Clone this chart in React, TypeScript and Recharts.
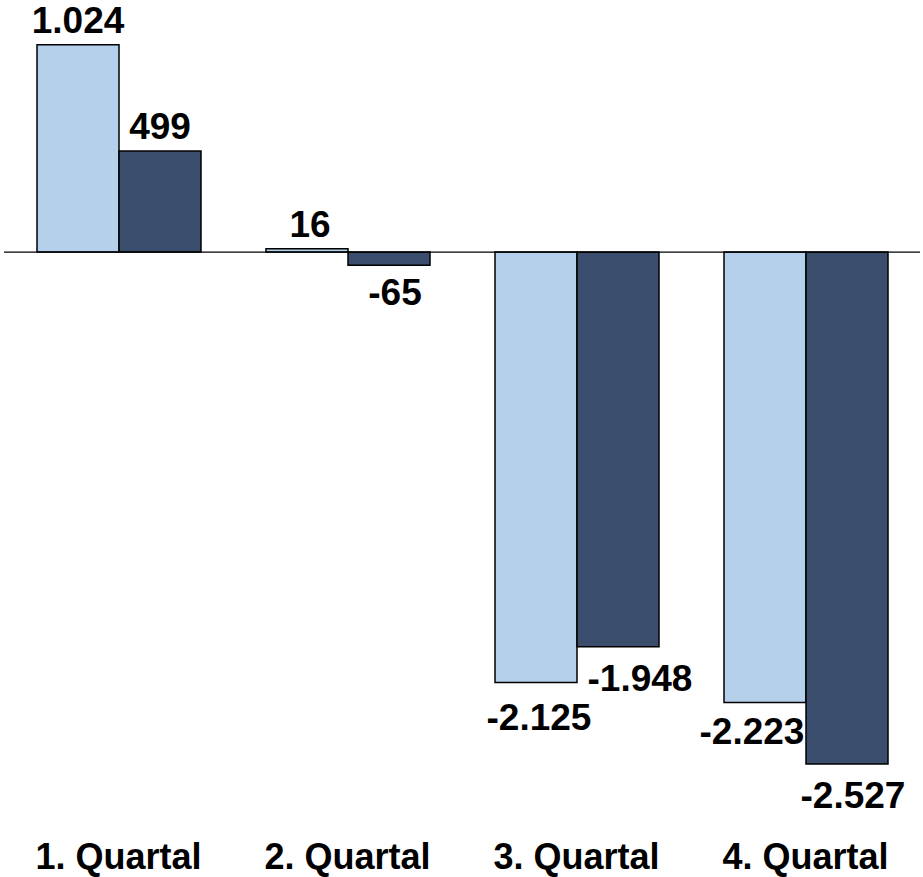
import { BarChart, Bar, XAxis, YAxis, ReferenceLine, LabelList } from 'recharts'

const quarters = ['1. Quartal', '2. Quartal', '3. Quartal', '4. Quartal']
const lightValues = [1024, 16, -2125, -2223]
const darkValues = [499, -65, -1948, -2527]

// small nudges so neighbouring value labels don't collide
const lightLabelShift = [
  [0, 0],
  [3, 0],
  [3, 3],
  [-13, -2],
]
const darkLabelShift = [
  [0, 0],
  [6, -4],
  [22, 0],
  [6, 0],
]

const LIGHT = '#B4D0EB'
const DARK = '#3A4D6C'
const FONT = '"Liberation Sans", Arial, Helvetica, sans-serif'

const data = quarters.map((q, i) => ({
  quarter: q,
  light: lightValues[i],
  dark: darkValues[i],
}))

const formatValue = (v: number) => {
  const sign = v < 0 ? '-' : ''
  const s = Math.abs(v).toString()
  return sign + s.replace(/\B(?=(\d{3})+(?!\d))/g, '.')
}

const makeLabel = (shifts: number[][]) => (props: any) => {
  const { x, y, width, height, value, index } = props
  const top = Math.min(y, y + height)
  const bottom = Math.max(y, y + height)
  const [dx, dy] = shifts[index] || [0, 0]
  const ty = value >= 0 ? top - 12 : bottom + 44
  return (
    <text
      x={x + width / 2 + dx}
      y={ty + dy}
      textAnchor="middle"
      fontFamily={FONT}
      fontWeight="bold"
      fontSize={37}
      fill="#000"
    >
      {formatValue(value)}
    </text>
  )
}

const QuarterTick = (props: any) => {
  const { x, y, payload } = props
  return (
    <text
      x={x}
      y={y + 70}
      textAnchor="middle"
      fontFamily={FONT}
      fontWeight="bold"
      fontSize={36}
      fill="#000"
    >
      {payload.value}
    </text>
  )
}

export default function App() {
  return (
    <div style={{ position: 'absolute', left: 0, top: 0, background: '#fff' }}>
      <BarChart
        width={923}
        height={877}
        data={data}
        margin={{ top: 9, right: 3, bottom: 18, left: 4 }}
        barCategoryGap={33}
        barGap={0}
      >
        <XAxis
          dataKey="quarter"
          axisLine={false}
          tickLine={false}
          tickSize={0}
          tickMargin={0}
          height={60}
          interval={0}
          tick={<QuarterTick />}
        />
        <YAxis hide domain={[-2700, 1200]} />
        <Bar
          dataKey="light"
          fill={LIGHT}
          stroke="#000"
          strokeWidth={1.5}
          isAnimationActive={false}
        >
          <LabelList dataKey="light" content={makeLabel(lightLabelShift)} />
        </Bar>
        <Bar
          dataKey="dark"
          fill={DARK}
          stroke="#000"
          strokeWidth={1.5}
          isAnimationActive={false}
        >
          <LabelList dataKey="dark" content={makeLabel(darkLabelShift)} />
        </Bar>
        <ReferenceLine y={0} stroke="#000" strokeWidth={1.2} />
      </BarChart>
    </div>
  )
}
